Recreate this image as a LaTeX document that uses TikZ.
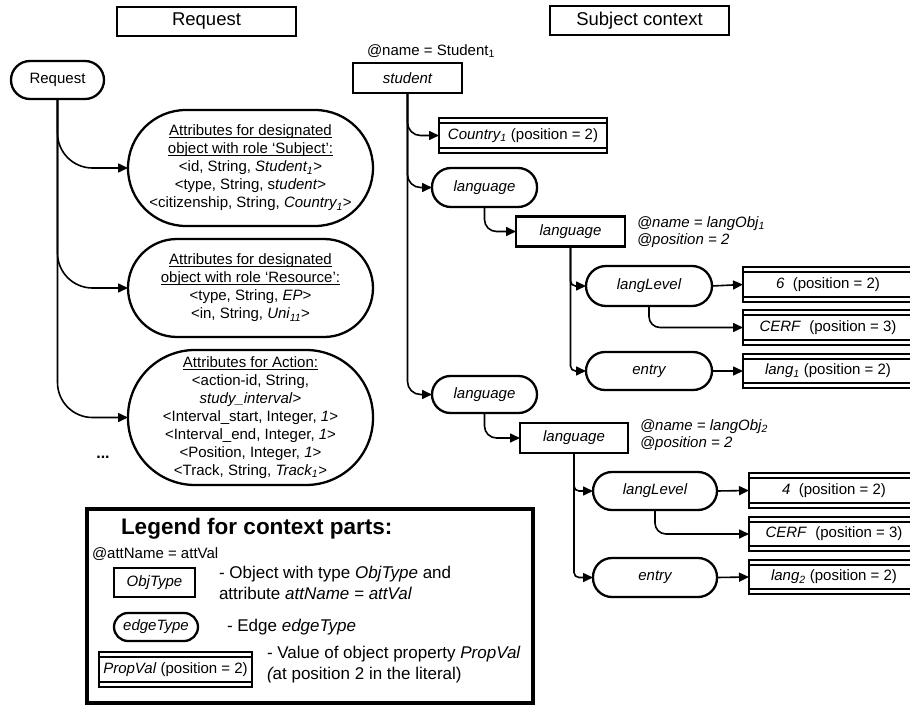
\documentclass[tikz,border=0pt]{standalone}
\usepackage{fontspec}
\setmainfont{Liberation Sans}
\usetikzlibrary{arrows.meta}
\newcommand\fsz[2]{\fontsize{#1}{#2}\selectfont}
\newcommand\undl[1]{\underline{\raisebox{0pt}[\height][0pt]{#1}}}
\begin{document}
\begin{tikzpicture}[x=1pt,y=-1pt,
  every node/.style={inner sep=0pt, outer sep=0pt},
  conn/.style={line width=1.6pt, -{Triangle[length=10pt,width=9pt]}},
  titlebox/.style={draw, line width=2pt, minimum width=179pt, minimum height=29pt, font=\fsz{18.5}{22}},
  objbox/.style={draw, line width=2.3pt, minimum width=109pt, minimum height=30pt, font=\fsz{15}{18}\itshape},
  edgebox/.style={draw, line width=2.3pt, rounded corners=19pt, minimum width=105pt, minimum height=39pt, font=\fsz{15}{18}\itshape},
  attrbox/.style={draw, line width=2.3pt, minimum width=245pt, align=center, font=\fsz{15}{18}},
  valbox/.style={draw, line width=1.5pt, anchor=west, minimum width=170pt, minimum height=35pt, font=\fsz{15}{18},
    path picture={
      \draw[line width=1.5pt] ([yshift=-5pt]path picture bounding box.north west) -- ([yshift=-5pt]path picture bounding box.north east);
      \draw[line width=1.5pt] ([yshift=5pt]path picture bounding box.south west) -- ([yshift=5pt]path picture bounding box.south east);
    }},
  note/.style={anchor=west, align=left, font=\fsz{15}{17}},
  legtext/.style={anchor=west, align=left, font=\fsz{17}{20.5}},
]
\clip (0,0) rectangle (910,709);
\fill[white] (0,0) rectangle (910,709);

% section titles
\node[titlebox] (treq) at (206.5,21.5) {Request};
\node[titlebox] (tsub) at (639.5,21) {Subject context};

% ---------------- request side ----------------
\node[draw, line width=2.3pt, rounded corners=19pt, minimum width=93pt, minimum height=38pt, font=\fsz{15}{18}] (req) at (57.5,80) {Request};

\node[attrbox, rounded corners=58pt, minimum height=116pt] (subj) at (250.5,168) {%
  \undl{Attributes for designated}\\
  \undl{object with role ‘Subject’:}\\
  <id, String, \textit{Student\textsubscript{1}}>\\
  <type, String, s\textit{tudent}>\\
  <citizenship, String, \textit{Country\textsubscript{1}}>};

\node[attrbox, rounded corners=49pt, minimum height=98pt] (res) at (250.5,288) {%
  \undl{Attributes for designated}\\
  \undl{object with role ‘Resource’:}\\
  <type, String, \textit{EP}>\\
  <in, String, \textit{Uni\textsubscript{11}}>};

\node[attrbox, rounded corners=67pt, minimum height=135pt] (act) at (250.5,417.5) {%
  \undl{Attributes for Action:}\\
  <action-id, String,\\
  \textit{study\_interval}>\\
  <Interval\_start, Integer, \textit{1}>\\
  <Interval\_end, Integer, \textit{1}>\\
  <Position, Integer, \textit{1}>\\
  <Track, String, \textit{Track\textsubscript{1}}>};

\node[font=\fsz{16}{18}\bfseries] (dots) at (103,457) {...};

\draw[conn, rounded corners=35pt] (req.south) |- (subj.west);
\draw[conn, rounded corners=35pt] (req.south) |- (res.west);
\draw[conn, rounded corners=35pt] (req.south) |- (act.west);

% ---------------- subject context ----------------
\node[note] (stuname) at (367,51) {@name = Student\textsubscript{1}};
\node[objbox] (stu) at (407.5,78) {student};

\node[valbox, minimum width=168pt] (country) at (439,135.5) {\textit{Country\textsubscript{1}} (position = 2)};

% first language edge and object
\node[edgebox] (le1) at (484.5,187.5) {language};
\node[objbox] (lo1) at (570.5,231.5) {language};
\node[note] (lo1att) at (637,232) {\textit{@name = langObj\textsubscript{1}}\\\textit{@position = 2}};

\node[edgebox, minimum width=126pt, minimum height=40pt, rounded corners=20pt] (ll1) at (649,286) {langLevel};
\node[edgebox, minimum width=126pt, minimum height=38pt] (en1) at (649,371) {entry};

\node[valbox] (v1) at (743,284.5) {\textit{6}\ \ (position = 2)};
\node[valbox] (c1) at (743,327.5) {\textit{CERF}\ \ (position = 3)};
\node[valbox, minimum height=34pt] (g1) at (743,371) {\textit{lang\textsubscript{1}} (position = 2)};

% second language edge and object
\node[edgebox, minimum height=37pt, rounded corners=18.5pt] (le2) at (484.5,394.5) {language};
\node[objbox, minimum width=108pt] (lo2) at (574,438) {language};
\node[note] (lo2att) at (640,435) {\textit{@name = langObj\textsubscript{2}}\\\textit{@position = 2}};

\node[edgebox, minimum width=124pt, minimum height=38pt] (ll2) at (655,491) {langLevel};
\node[edgebox, minimum width=124pt, minimum height=39pt] (en2) at (655,577.5) {entry};

\node[valbox] (v2) at (749,490.5) {\textit{4}\ \ (position = 2)};
\node[valbox, minimum height=34pt] (c2) at (749,534) {\textit{CERF}\ \ (position = 3)};
\node[valbox, minimum height=34pt] (g2) at (749,577) {\textit{lang\textsubscript{2}} (position = 2)};

% connectors of the context tree
\draw[conn, rounded corners=13pt] (stu.south) |- (country.west);
\draw[conn, rounded corners=13pt] (stu.south) |- (le1.west);
\draw[conn, rounded corners=13pt] (stu.south) |- (le2.west);

\draw[conn, rounded corners=12pt] (le1.south) |- (lo1.west);
\draw[conn, rounded corners=5pt] (lo1.south) |- (ll1.west);
\draw[conn, rounded corners=5pt] (lo1.south) |- (en1.west);
\draw[conn] (ll1.east) -- (v1.west);
\draw[conn, rounded corners=11pt] (ll1.south) |- (c1.west);
\draw[conn] (en1.east) -- (g1.west);

\draw[conn, rounded corners=12pt] (le2.south) |- (lo2.west);
\draw[conn, rounded corners=5pt] (lo2.south) |- (ll2.west);
\draw[conn, rounded corners=5pt] (lo2.south) |- (en2.west);
\draw[conn] (ll2.east) -- (v2.west);
\draw[conn, rounded corners=11pt] (ll2.south) |- (c2.west);
\draw[conn] (en2.east) -- (g2.west);

% ---------------- legend ----------------
\node[draw, line width=4.5pt, minimum width=446pt, minimum height=194pt] (legend) at (310,606) {};
\node[anchor=west, font=\fsz{22.5}{26}\bfseries] (legtitle) at (121,529) {Legend for context parts:};
\node[note] (legatt) at (92,554) {@attName = attVal};
\node[objbox, minimum width=81pt, minimum height=29pt] (legobj) at (154.5,582.5) {ObjType};
\node[legtext] (legobjtxt) at (219,583) {- Object with type \textit{ObjType} and\\attribute \textit{attName = attVal}};
\node[edgebox, minimum width=84pt, minimum height=28pt, rounded corners=14pt] (legedge) at (156,627) {edgeType};
\node[legtext] (legedgetxt) at (227,627) {- Edge \textit{edgeType}};
\node[valbox, minimum width=153pt] (legval) at (99,669.5) {\textit{PropVal} (position = 2)};
\node[legtext] (legvaltxt) at (267,664.5) {- Value of object property \textit{PropVal}\\{\itshape(}at position 2 in the literal)};
\end{tikzpicture}
\end{document}
